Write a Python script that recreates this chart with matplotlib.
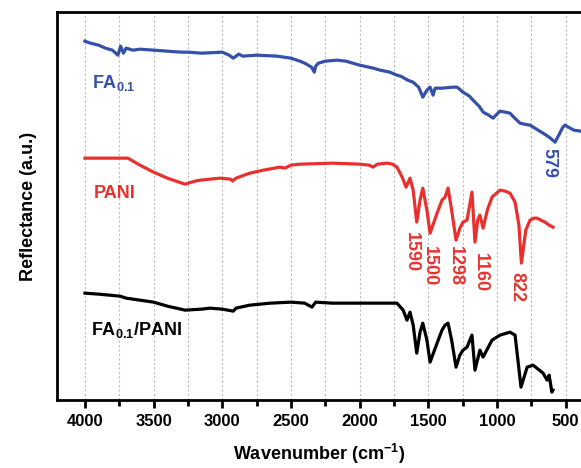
import matplotlib
matplotlib.use("Agg")
import matplotlib.pyplot as plt
import numpy as np

plt.rcParams['font.family'] = ['Liberation Sans', 'DejaVu Sans']
plt.rcParams['font.weight'] = 'bold'
plt.rcParams['mathtext.fontset'] = 'custom'
plt.rcParams['mathtext.rm'] = 'Liberation Sans:bold'
plt.rcParams['mathtext.bf'] = 'Liberation Sans:bold'

# FA0.1 (blue)
fa_wn = [4000, 3960, 3900, 3850, 3800, 3760, 3740, 3720, 3700, 3650, 3600, 3500, 3400,
         3300, 3250, 3150, 3000, 2950, 2920, 2880, 2850, 2750, 2600, 2500, 2434, 2400,
         2350, 2330, 2320, 2300, 2250, 2165, 2100, 2000, 1900, 1850, 1780, 1728, 1700,
         1650, 1611, 1570, 1540, 1510, 1487, 1465, 1450, 1400, 1320, 1290, 1247, 1200,
         1174, 1130, 1100, 1060, 1028, 1000, 978, 940, 905, 870, 832, 800, 759, 700,
         664, 620, 577, 550, 520, 504, 480, 440, 388]
fa_y = [359, 357, 355, 352, 350, 345, 354, 347, 352, 350, 351, 350, 349,
        348, 348, 347, 348, 345, 342, 346, 344, 345, 344, 342, 339, 337,
        333, 328, 334, 337, 339, 340, 339, 335, 332, 330, 328, 325, 324,
        320, 318, 313, 303, 310, 313, 305, 312, 312, 313, 313, 308, 304,
        300, 294, 288, 285, 282, 286, 289, 288, 287, 282, 277, 276, 275, 270,
        267, 263, 258, 265, 273, 275, 273, 270, 269]

# PANI (red)
pani_wn = [4000, 3700, 3687, 3600, 3500, 3400, 3272, 3200, 3160, 3017, 2940, 2925, 2900,
           2800, 2700, 2580, 2545, 2500, 2434, 2194, 2000, 1930, 1903, 1870, 1800, 1760,
           1728, 1690, 1662, 1633, 1610, 1584, 1560, 1540, 1510, 1487, 1436, 1400, 1378,
           1356, 1330, 1298, 1270, 1247, 1218, 1182, 1160, 1140, 1124, 1101, 1070, 1036,
           978, 940, 905, 868, 840, 822, 790, 759, 730, 708, 680, 650, 620, 592]
pani_y = [242, 242, 242, 235, 228, 222, 216, 219, 220, 222, 221, 219, 222,
          227, 230, 233, 232, 235, 236, 237, 236, 235, 233, 236, 237, 236,
          233, 223, 213, 222, 210, 178, 200, 212, 190, 167, 187, 200, 203,
          212, 190, 160, 172, 178, 180, 208, 158, 180, 185, 172, 190, 203,
          210, 209, 207, 198, 175, 137, 170, 180, 182, 182, 180, 178, 175, 173]

# FA0.1/PANI (black)
mix_wn = [4000, 3900, 3745, 3700, 3500, 3400, 3270, 3150, 3090, 3000, 2920, 2900, 2800,
          2650, 2500, 2400, 2347, 2320, 2200, 2000, 1850, 1728, 1683, 1655, 1633, 1610,
          1584, 1560, 1540, 1510, 1487, 1436, 1400, 1378, 1356, 1330, 1298, 1270, 1247,
          1218, 1182, 1160, 1124, 1101, 1036, 978, 905, 868, 825, 780, 737, 664, 635,
          620, 600, 592]
mix_y = [107, 106, 104, 102, 98, 94, 90, 91, 92, 91, 89, 92, 95,
         97, 98, 97, 93, 98, 97, 97, 97, 97, 90, 80, 88, 75,
         47, 68, 77, 60, 38, 57, 70, 75, 77, 60, 33, 45, 50,
         53, 65, 30, 50, 43, 60, 65, 68, 65, 13, 33, 35, 27, 20,
         25, 8, 10]

# peak annotations: label, wavenumber position, height
pani_peaks = ['1590', '1500', '1298', '1160', '822']
pani_peak_x = [1626, 1494, 1305, 1123, 853]
pani_peak_y = [148, 134, 134, 128, 113]
fa_peak = '579'
fa_peak_x, fa_peak_y = 620, 237

blue = '#3550a8'
red = '#e8312f'

fig = plt.figure(figsize=(5.81, 4.68), dpi=100)
ax = fig.add_axes([0.098, 0.145, 0.902, 0.829])

ax.plot(fa_wn, fa_y, color=blue, lw=2.3)
ax.plot(pani_wn, pani_y, color=red, lw=2.3)
ax.plot(mix_wn, mix_y, color='black', lw=2.3)

ax.set_xlim(4204, 388)
ax.set_ylim(0, 388)

ax.set_xticks(np.arange(4000, 499, -500))
ax.set_xticks(np.arange(3750, 499, -500), minor=True)
ax.tick_params(axis='x', which='major', direction='out', length=6, width=2, labelsize=12, pad=4)
ax.tick_params(axis='x', which='minor', direction='out', length=4, width=2)
ax.set_yticks([])
ax.grid(True, axis='x', which='both', color='#bbbbbb', linestyle=(0, (2, 2)), lw=0.8)

for s in ['left', 'top', 'bottom']:
    ax.spines[s].set_linewidth(2)
ax.spines['right'].set_visible(False)

ax.set_xlabel(r'Wavenumber (cm$^{-1}$)', fontsize=13, fontweight='bold', labelpad=9)
ax.set_ylabel('Reflectance (a.u.)', fontsize=13, fontweight='bold', labelpad=14)

# curve names
ax.text(3949, 317, r'FA$_{0.1}$', color=blue, fontsize=13, fontweight='bold', va='center')
ax.text(3934, 207, 'PANI', color=red, fontsize=13, fontweight='bold', va='center')
ax.text(3956, 70, r'FA$_{0.1}$/PANI', color='black', fontsize=13, fontweight='bold', va='center')

for lab, px, py in zip(pani_peaks, pani_peak_x, pani_peak_y):
    ax.text(px, py, lab, color=red, fontsize=13, fontweight='bold', rotation=-90,
            ha='center', va='center')
ax.text(fa_peak_x, fa_peak_y, fa_peak, color=blue, fontsize=13, fontweight='bold',
        rotation=-90, ha='center', va='center')

fig.savefig('out.png', dpi=100)
